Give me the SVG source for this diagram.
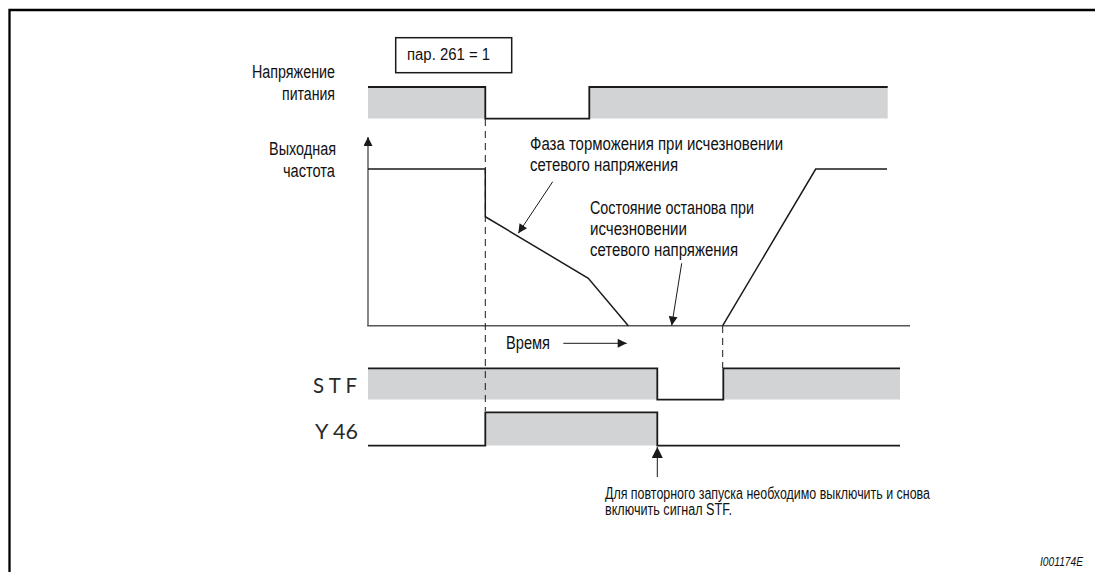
<svg xmlns="http://www.w3.org/2000/svg" width="1095" height="572" viewBox="0 0 1095 572">
<style>
.lbl{font-family:"Liberation Sans Narrow","Liberation Sans",Arial,sans-serif;font-size:18px;fill:#111}
.sm{font-size:16px}
.sig{font-family:"Lato","Open Sans","Liberation Sans",sans-serif;font-weight:400;font-size:21px;fill:#2a2a2a}
.fid{font-family:"Liberation Sans",Arial,sans-serif;font-style:italic;font-size:13px;fill:#111}
.band{fill:#d1d3d4;stroke:none}
.edge{fill:none;stroke:#1a1a1a;stroke-width:1.8;stroke-linejoin:miter}
.curve{fill:none;stroke:#1a1a1a;stroke-width:1.5}
.axis{fill:none;stroke:#555;stroke-width:1.4}
.dash{fill:none;stroke:#1a1a1a;stroke-width:1;stroke-dasharray:7 5}
.lead{fill:none;stroke:#1a1a1a;stroke-width:1}
</style>
<defs>
<marker id="arr" viewBox="0 0 10 10" refX="10" refY="5" markerUnits="userSpaceOnUse" markerWidth="10" markerHeight="9" orient="auto">
<path d="M0,0 L10,5 L0,10 z" fill="#1a1a1a"/>
</marker>
<marker id="arrL" viewBox="0 0 10 10" refX="10" refY="5" markerUnits="userSpaceOnUse" markerWidth="11" markerHeight="11" orient="auto">
<path d="M0,0 L10,5 L0,10 z" fill="#1a1a1a"/>
</marker>
</defs>
<rect width="1095" height="572" fill="#fff"/>
<g id="frame"><path d="M9.5,572 V10 H1095" fill="none" stroke="#000" stroke-width="2.3"/></g>

<g id="box-par">
<rect x="395.7" y="37.7" width="116" height="35" fill="#fff" stroke="#1a1a1a" stroke-width="1.5"/>
<text class="lbl sm" x="407" y="60" textLength="83" lengthAdjust="spacingAndGlyphs">пар. 261 = 1</text>
</g>

<g id="label-power">
<text class="lbl" x="252" y="77.5" textLength="83" lengthAdjust="spacingAndGlyphs">Напряжение</text>
<text class="lbl" x="282" y="100" textLength="53" lengthAdjust="spacingAndGlyphs">питания</text>
</g>
<g id="signal-power">
<rect class="band" x="368" y="87" width="117.3" height="31.5"/>
<rect class="band" x="589.3" y="87" width="298.4" height="31.5"/>
<path class="edge" d="M368,87 H485.3 V118.7 H589.3 V87 H887.7"/>
</g>

<g id="label-freq">
<text class="lbl" x="269" y="155" textLength="67" lengthAdjust="spacingAndGlyphs">Выходная</text>
<text class="lbl" x="283" y="177" textLength="52" lengthAdjust="spacingAndGlyphs">частота</text>
</g>
<g id="axis-freq">
<line class="axis" x1="368" y1="326" x2="368" y2="137" marker-end="url(#arr)"/>
<line class="axis" x1="367.3" y1="325.7" x2="910" y2="325.7"/>
</g>
<g id="freq-curve">
<path class="curve" d="M368,169 H485.3 V216.7 L588.3,278.3 L628.3,325.7"/>
<path class="curve" d="M722.7,325.7 L815.7,169 H887"/>
</g>

<g id="callout-decel">
<text class="lbl" x="530" y="150" textLength="253" lengthAdjust="spacingAndGlyphs">Фаза торможения при исчезновении</text>
<text class="lbl" x="530" y="170.5" textLength="148" lengthAdjust="spacingAndGlyphs">сетевого напряжения</text>
</g>
<g id="callout-stop">
<text class="lbl" x="590" y="214" textLength="164" lengthAdjust="spacingAndGlyphs">Состояние останова при</text>
<text class="lbl" x="590" y="235" textLength="97" lengthAdjust="spacingAndGlyphs">исчезновении</text>
<text class="lbl" x="590" y="256" textLength="148" lengthAdjust="spacingAndGlyphs">сетевого напряжения</text>
</g>

<g id="time-label">
<text class="lbl" x="506" y="349" textLength="44" lengthAdjust="spacingAndGlyphs">Время</text>
<line class="lead" x1="563.3" y1="343.3" x2="626.7" y2="343.3" marker-end="url(#arr)"/>
</g>

<g id="signal-stf">
<text class="sig" x="313" y="393" textLength="44" lengthAdjust="spacingAndGlyphs">S T F</text>
<rect class="band" x="368" y="368.3" width="289.3" height="31.2"/>
<rect class="band" x="723.3" y="368.3" width="176.7" height="31.2"/>
<path class="edge" d="M368,368.3 H657.3 V399.7 H723.3 V368.3 H900"/>
</g>

<g id="signal-y46">
<text class="sig" x="315" y="439" textLength="43" lengthAdjust="spacingAndGlyphs">Y 46</text>
<rect class="band" x="485.3" y="412.3" width="172" height="33.2"/>
<path class="edge" d="M368,445.7 H485.3 V412.3 H657.3 V445.7 H900"/>
</g>

<g id="note-restart">
<text class="lbl sm" x="605" y="499.3" textLength="325" lengthAdjust="spacingAndGlyphs">Для повторного запуска необходимо выключить и снова</text>
<text class="lbl sm" x="605" y="514.5" textLength="127" lengthAdjust="spacingAndGlyphs">включить сигнал STF.</text>
</g>

<g id="figure-id">
<text class="fid" x="1040" y="566" textLength="43" lengthAdjust="spacingAndGlyphs">I001174E</text>
</g>

<g id="connectors">
<line class="dash" x1="485.3" y1="119" x2="485.3" y2="411"/>
<line class="dash" x1="722.7" y1="326" x2="722.7" y2="368"/>
<line class="lead" x1="552.7" y1="181.7" x2="518.3" y2="233.3" marker-end="url(#arr)"/>
<line class="lead" x1="681.7" y1="263.3" x2="671.7" y2="325.5" marker-end="url(#arr)"/>
<line class="lead" x1="657.3" y1="477" x2="657.3" y2="447" marker-end="url(#arrL)"/>
</g>
</svg>
